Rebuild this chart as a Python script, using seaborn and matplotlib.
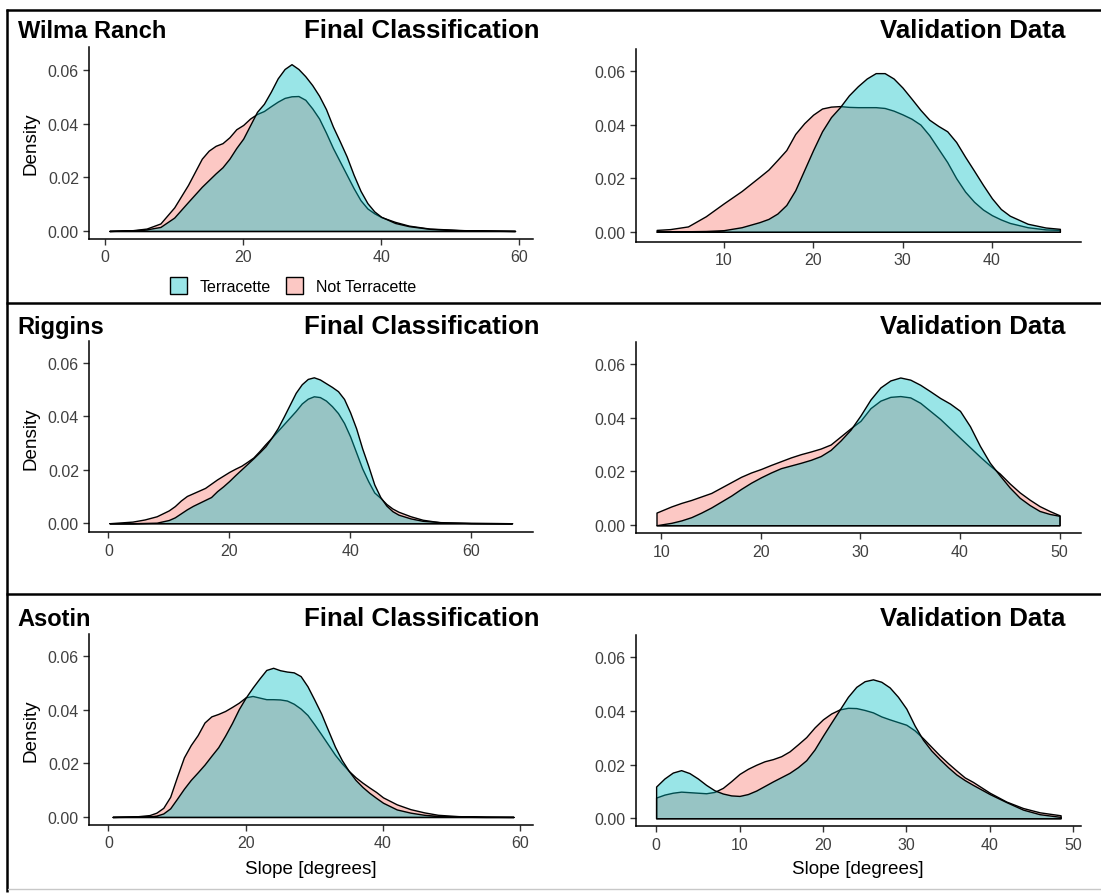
import matplotlib
matplotlib.use("Agg")
import matplotlib.pyplot as plt
import matplotlib.colors as mcolors
from matplotlib.lines import Line2D
from matplotlib.patches import Patch
import seaborn as sns

# ---------------- data ----------------
sites = ["Wilma Ranch", "Riggins", "Asotin"]
panel_titles = ["Final Classification", "Validation Data"]
legend_labels = ["Terracette", "Not Terracette"]

# Wilma Ranch - Final Classification
wilma_final_x = [0.6, 4, 6, 8, 10, 12, 14, 15, 16, 17, 18, 19, 20, 21, 22, 23, 24, 25, 26, 27,
                 28, 29, 30, 31, 32, 33, 34, 35, 36, 37, 38, 39, 40, 42, 44, 47, 52, 59.4]
wilma_final_terr = [0, 0.0002, 0.0006, 0.0015, 0.005, 0.0108, 0.0165, 0.019, 0.0215, 0.0238,
                    0.027, 0.031, 0.0345, 0.0395, 0.0445, 0.0475, 0.052, 0.057, 0.0605, 0.0623,
                    0.0605, 0.0578, 0.0545, 0.0505, 0.0455, 0.039, 0.0335, 0.0278, 0.021, 0.015,
                    0.0104, 0.0073, 0.0053, 0.003, 0.0018, 0.0008, 0.0002, 0]
wilma_final_not = [0.0, 0.0003, 0.0009, 0.0028, 0.0088, 0.0172, 0.027, 0.030, 0.0318, 0.0328,
                   0.035, 0.038, 0.0396, 0.042, 0.0437, 0.0448, 0.0466, 0.0483, 0.0497, 0.0503,
                   0.0504, 0.049, 0.0458, 0.042, 0.0367, 0.031, 0.026, 0.021, 0.016, 0.0115,
                   0.0084, 0.0066, 0.0052, 0.0034, 0.002, 0.0009, 0.0003, 0.0]

# Wilma Ranch - Validation Data
wilma_valid_x = [2.5, 4, 6, 8, 10, 12, 14, 15, 16, 17, 18, 19, 20, 21, 22, 23, 24, 25, 26, 27,
                 28, 29, 30, 31, 32, 33, 34, 35, 36, 37, 38, 39, 40, 41, 42, 44, 46, 47.6]
wilma_valid_terr = [0.0001, 0.0001, 0.0002, 0.0003, 0.0006, 0.0017, 0.0036, 0.0048, 0.0068, 0.0100,
                    0.0155, 0.023, 0.0305, 0.0375, 0.0428, 0.0465, 0.0509, 0.0543, 0.0572, 0.0592,
                    0.0592, 0.0572, 0.0538, 0.0497, 0.0455, 0.0418, 0.0395, 0.0375, 0.0335, 0.028,
                    0.0228, 0.0175, 0.0125, 0.0085, 0.006, 0.003, 0.0016, 0.0011]
wilma_valid_not = [0.0007, 0.001, 0.002, 0.0058, 0.0106, 0.0152, 0.0205, 0.0232, 0.0268, 0.0305,
                   0.0365, 0.0405, 0.0437, 0.046, 0.0467, 0.0469, 0.0466, 0.0465, 0.0465, 0.0465,
                   0.0462, 0.0452, 0.0438, 0.0422, 0.040, 0.036, 0.031, 0.026, 0.020, 0.015,
                   0.0112, 0.0083, 0.0062, 0.0046, 0.0033, 0.0017, 0.0009, 0.0007]

# Riggins - Final Classification
riggins_final_x = [0.2, 4, 6, 8, 10, 11, 12, 13, 14, 15, 16, 17, 18, 19, 20, 21, 22, 23, 24, 25,
                   26, 27, 28, 29, 30, 31, 32, 33, 34, 35, 36, 37, 38, 39, 40, 41, 42, 43, 44, 45,
                   46, 47, 48, 50, 52, 55, 60, 66.8]
riggins_final_terr = [0, 0.0, 0.0001, 0.0002, 0.0012, 0.0022, 0.0037, 0.0052, 0.0065, 0.0076,
                      0.0087, 0.0098, 0.012, 0.0138, 0.0158, 0.018, 0.0201, 0.0222, 0.0243, 0.0265,
                      0.0288, 0.032, 0.0355, 0.0398, 0.0443, 0.0488, 0.0520, 0.0540, 0.0546, 0.0538,
                      0.0524, 0.0510, 0.0494, 0.0465, 0.0415, 0.0355, 0.028, 0.0215, 0.0145, 0.0098,
                      0.0066, 0.0045, 0.0032, 0.0018, 0.0009, 0.0004, 0.0001, 0]
riggins_final_not = [0, 0.0006, 0.0014, 0.0026, 0.0048, 0.0064, 0.0085, 0.0102, 0.0112, 0.0122,
                     0.0132, 0.0148, 0.0164, 0.0178, 0.0192, 0.0204, 0.0215, 0.023, 0.0246, 0.027,
                     0.0296, 0.032, 0.0345, 0.037, 0.0395, 0.042, 0.0448, 0.0466, 0.0475, 0.0472,
                     0.0459, 0.0438, 0.0412, 0.0375, 0.0325, 0.0265, 0.0205, 0.0157, 0.0115, 0.0095,
                     0.0072, 0.0055, 0.0043, 0.0026, 0.0013, 0.0003, 0.0001, 0]

# Riggins - Validation Data
riggins_valid_x = [9.5, 11, 12, 13, 14, 15, 16, 17, 18, 19, 20, 21, 22, 23, 24, 25, 26, 27, 28, 29,
                   30, 31, 32, 33, 34, 35, 36, 37, 38, 39, 40, 41, 42, 43, 44, 45, 46, 47, 48, 49, 50]
riggins_valid_terr = [0.0, 0.0009, 0.0018, 0.003, 0.0047, 0.0066, 0.0088, 0.011, 0.0135, 0.0158,
                      0.0178, 0.0196, 0.0212, 0.0222, 0.0232, 0.0243, 0.0257, 0.028, 0.0315, 0.0355,
                      0.0408, 0.0467, 0.0512, 0.0538, 0.0549, 0.0541, 0.0522, 0.0498, 0.0473, 0.0452,
                      0.0425, 0.0368, 0.0295, 0.0232, 0.0185, 0.014, 0.0102, 0.0075, 0.0053, 0.0042,
                      0.0035]
riggins_valid_not = [0.0047, 0.007, 0.0083, 0.0094, 0.0107, 0.012, 0.014, 0.016, 0.018, 0.0196,
                     0.0209, 0.0224, 0.0238, 0.0252, 0.0264, 0.0274, 0.0285, 0.03, 0.033, 0.036,
                     0.0388, 0.0435, 0.0463, 0.0477, 0.048, 0.0475, 0.0455, 0.0425, 0.0395, 0.036,
                     0.0325, 0.029, 0.0255, 0.0222, 0.0192, 0.0155, 0.0122, 0.0095, 0.0071, 0.0053,
                     0.0037]

# Asotin - Final Classification
asotin_final_x = [0.6, 4, 6, 7, 8, 9, 10, 11, 12, 13, 14, 15, 16, 17, 18, 19, 20, 21, 22, 23, 24,
                  25, 26, 27, 28, 29, 30, 31, 32, 33, 34, 35, 36, 37, 38, 39, 40, 42, 44, 46, 48,
                  51, 55, 59]
asotin_final_terr = [0, 0.0001, 0.0002, 0.0005, 0.0013, 0.0032, 0.0068, 0.0105, 0.0138, 0.0166,
                     0.0195, 0.0228, 0.026, 0.0303, 0.035, 0.0402, 0.0445, 0.0482, 0.0516, 0.0548,
                     0.0556, 0.0547, 0.0542, 0.0539, 0.0525, 0.0487, 0.0437, 0.0385, 0.0323, 0.0262,
                     0.0212, 0.0172, 0.0138, 0.0112, 0.009, 0.0071, 0.0053, 0.0028, 0.0016, 0.0008,
                     0.0004, 0.0001, 0, 0]
asotin_final_not = [0, 0.0002, 0.0007, 0.0016, 0.0034, 0.0075, 0.015, 0.0222, 0.0268, 0.0305,
                    0.0352, 0.0375, 0.0384, 0.0395, 0.041, 0.0426, 0.0446, 0.0451, 0.0445, 0.0439,
                    0.0439, 0.0438, 0.0434, 0.0422, 0.0404, 0.038, 0.0345, 0.0308, 0.027, 0.0232,
                    0.020, 0.0172, 0.0148, 0.0128, 0.011, 0.0093, 0.0073, 0.0047, 0.0029, 0.0017,
                    0.0008, 0.0003, 0.0001, 0]

# Asotin - Validation Data
asotin_valid_x = [0, 1, 2, 3, 4, 5, 6, 7, 8, 9, 10, 11, 12, 13, 14, 15, 16, 17, 18, 19, 20, 21,
                  22, 23, 24, 25, 26, 27, 28, 29, 30, 31, 32, 33, 34, 35, 36, 37, 38, 40, 42, 44,
                  46, 48.5]
asotin_valid_terr = [0.0118, 0.0148, 0.0170, 0.0179, 0.0168, 0.0148, 0.0124, 0.0104, 0.0092, 0.0085,
                     0.0083, 0.009, 0.0103, 0.012, 0.0137, 0.0153, 0.0169, 0.019, 0.0216, 0.0256,
                     0.0307, 0.0356, 0.0404, 0.0452, 0.0489, 0.051, 0.0517, 0.0508, 0.0487, 0.0452,
                     0.0408, 0.0345, 0.0292, 0.0252, 0.022, 0.019, 0.0163, 0.0142, 0.0124, 0.009,
                     0.006, 0.0032, 0.0015, 0.0005]
asotin_valid_not = [0.0077, 0.0088, 0.0095, 0.0099, 0.0097, 0.0095, 0.0093, 0.0098, 0.0113, 0.0138,
                    0.0165, 0.0184, 0.0199, 0.0212, 0.022, 0.0231, 0.0249, 0.0275, 0.0302, 0.0338,
                    0.0368, 0.039, 0.0405, 0.0411, 0.041, 0.0403, 0.0394, 0.0379, 0.0368, 0.0358,
                    0.0348, 0.0327, 0.0298, 0.0266, 0.0234, 0.0205, 0.0178, 0.0152, 0.0135, 0.0095,
                    0.0062, 0.0038, 0.0022, 0.0011]

x_ticks = [[0, 20, 40, 60], [10, 20, 30, 40],
           [0, 20, 40, 60], [10, 20, 30, 40, 50],
           [0, 20, 40, 60], [0, 10, 20, 30, 40, 50]]
y_ticks = [0.00, 0.02, 0.04, 0.06]
x_label = "Slope [degrees]"
y_label = "Density"

# ---------------- style ----------------
sns.set_theme(style="ticks")
plt.rcParams['font.family'] = ['Liberation Sans', 'DejaVu Sans']

W, H = 1101, 895
fig = plt.figure(figsize=(W / 100, H / 100), dpi=100)
fig.patch.set_facecolor("white")

TEAL = mcolors.to_rgba("#00BFC4", 0.4)
RED = mcolors.to_rgba("#F8766D", 0.4)


def fx(px):
    return px / W


def fy(py):
    return 1 - py / H


def add_ax(l, t, r, b):
    return fig.add_axes([fx(l), fy(b), (r - l) / W, (b - t) / H])


# axes boxes in pixels: (left, top, right, bottom), and x limits
boxes = [(89.4, 48.3, 533, 240.0), (636.1, 50.0, 1080.6, 242.7),
         (89.4, 341.7, 533, 533.3), (636.1, 342.7, 1080.6, 534.3),
         (89.4, 635.0, 533, 826.0), (636.1, 636.0, 1080.6, 827.3)]
xlims = [(-2.29, 62.0), (0.2, 49.92), (-3.13, 70.26), (7.45, 52.12), (-2.76, 61.84), (-2.4, 50.9)]
ylims = [(-0.0030, 0.0686), (-0.0037, 0.0682), (-0.0034, 0.0683),
         (-0.0030, 0.0682), (-0.0030, 0.0682), (-0.0030, 0.0682)]

series = [(wilma_final_x, wilma_final_terr, wilma_final_not),
          (wilma_valid_x, wilma_valid_terr, wilma_valid_not),
          (riggins_final_x, riggins_final_terr, riggins_final_not),
          (riggins_valid_x, riggins_valid_terr, riggins_valid_not),
          (asotin_final_x, asotin_final_terr, asotin_final_not),
          (asotin_valid_x, asotin_valid_terr, asotin_valid_not)]

for i, (box, (xs, terr, notv)) in enumerate(zip(boxes, series)):
    ax = add_ax(*box)
    ax.set_facecolor("white")
    ax.fill_between(xs, notv, 0, facecolor=RED, edgecolor="black", linewidth=1.0, zorder=2)
    ax.fill_between(xs, terr, 0, facecolor=TEAL, edgecolor="black", linewidth=1.0, zorder=3)
    ax.set_xlim(*xlims[i])
    ax.set_ylim(*ylims[i])
    ax.set_xticks(x_ticks[i])
    ax.set_xticklabels([str(t) for t in x_ticks[i]])
    ax.set_yticks(y_ticks)
    ax.set_yticklabels([f"{t:.2f}" for t in y_ticks])
    sns.despine(ax=ax)
    for s in ("left", "bottom"):
        ax.spines[s].set_linewidth(1.1)
        ax.spines[s].set_color("black")
    ax.tick_params(axis="both", labelsize=11.5, length=4.5, width=1.0, color="#333333",
                   labelcolor="#404040", pad=3)
    ax.set_xlabel("")
    ax.set_ylabel("")

# ---------------- text ----------------
row_base = [38.3, 334.0, 626.5]
for r, site in enumerate(sites):
    fig.text(fx(17.5), fy(row_base[r]), site, fontsize=17, fontweight="bold",
             ha="left", va="baseline", color="black")
    fig.text(fx(540), fy(row_base[r]), panel_titles[0], fontsize=18.6, fontweight="bold",
             ha="right", va="baseline", color="black")
    fig.text(fx(1065.8), fy(row_base[r] - 0.5), panel_titles[1], fontsize=18.6, fontweight="bold",
             ha="right", va="baseline", color="black")

for yc in (144, 438.3, 730.8):
    fig.text(fx(30.7), fy(yc), y_label, rotation=90, fontsize=13.6, ha="center", va="center",
             color="black")

fig.text(fx(311.3), fy(874), x_label, fontsize=13.6, ha="center", va="baseline", color="black")
fig.text(fx(858), fy(874), x_label, fontsize=13.6, ha="center", va="baseline", color="black")

# legend
handles = [Patch(facecolor=TEAL, edgecolor="black", linewidth=1.0),
           Patch(facecolor=RED, edgecolor="black", linewidth=1.0)]
fig.legend(handles, legend_labels, loc="center", bbox_to_anchor=(fx(293), fy(286.5)),
           ncol=2, frameon=False, fontsize=11.5, handlelength=1.05, handleheight=1.2,
           handletextpad=0.8, columnspacing=0.95, borderpad=0, labelcolor="black")

# ---------------- panel borders ----------------
for yb in (10.5, 303.5, 595):
    fig.add_artist(Line2D([fx(6), 1.0], [fy(yb), fy(yb)], color="black", linewidth=1.8,
                          solid_capstyle="butt"))
fig.add_artist(Line2D([fx(7.2), fx(7.2)], [fy(9.7), fy(893)], color="black", linewidth=1.8,
                      solid_capstyle="butt"))
fig.add_artist(Line2D([fx(8), 1.0], [fy(890), fy(890)], color="#C8C8C8", linewidth=1.0))

fig.savefig("out.png", dpi=100, facecolor="white")
